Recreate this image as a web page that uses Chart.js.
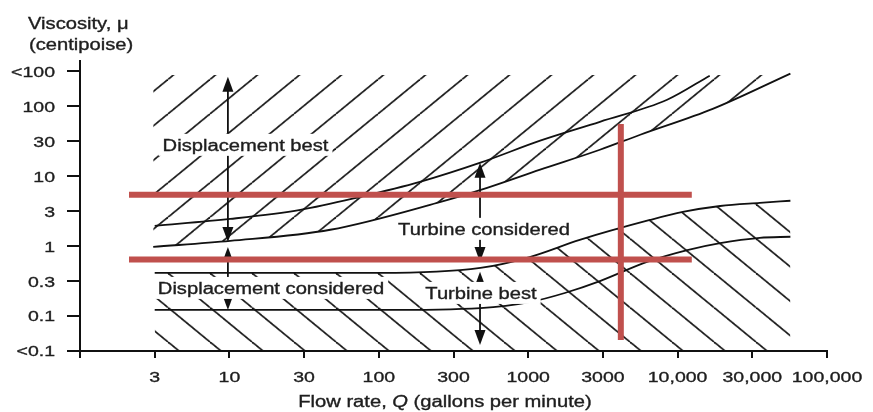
<!DOCTYPE html>
<html>
<head>
<meta charset="utf-8">
<script src="https://cdn.jsdelivr.net/npm/chart.js@4.4.1/dist/chart.umd.min.js"></script>
<style>
  html, body { margin: 0; padding: 0; background: #fff; }
  #wrap { width: 873px; height: 412px; }
</style>
</head>
<body>
<div id="wrap"><canvas id="chart" width="873" height="412"></canvas></div>
<script>
// axis positions are tick indexes: the printed ticks are evenly spaced
const xTickLabels = ['', '3', '10', '30', '100', '300', '1000', '3000', '10,000', '30,000', '100,000'];
const yTickLabels = ['<0.1', '0.1', '0.3', '1', '3', '10', '30', '100', '<100'];

// boundary curves, [flow tick index, viscosity tick index]
const turbineUpper = [[1.00, 3.58], [2.01, 3.78], [2.95, 4.04], [3.75, 4.41], [4.55, 4.84], [5.36, 5.39], [6.16, 6.02], [6.96, 6.56], [7.86, 7.19], [8.43, 7.88]];
const displacementBestEdge = [[0.98, 2.98], [2.01, 3.15], [3.35, 3.47], [4.78, 4.24], [5.45, 4.67], [6.16, 5.19], [6.96, 5.76], [7.50, 6.19], [8.47, 6.93], [9.51, 7.94]];
const turbineBestEdge = [[1.00, 2.235], [4.02, 2.235], [5.36, 2.38], [6.02, 2.69], [6.69, 3.18], [7.63, 3.75], [8.07, 3.98], [8.57, 4.15], [9.10, 4.24], [9.51, 4.30]];
const displacementConsidered = [[1.00, 1.175], [4.02, 1.175], [5.36, 1.23], [6.02, 1.40], [6.49, 1.66], [6.96, 2.00], [7.59, 2.55], [8.13, 2.89], [8.57, 3.09], [9.10, 3.24], [9.51, 3.27]];
const hatchTop = 7.9;

// double headed arrows
const arrowX = [1.98, 1.98, 5.355, 5.355];
const arrowLow = [3.12, 1.175, 2.55, 0.17];
const arrowHigh = [7.85, 2.98, 5.39, 2.27];

// region names
const regionText = ['Displacement best', 'Turbine considered', 'Displacement considered', 'Turbine best'];
const regionX = [2.216, 5.408, 2.557, 5.368];
const regionY = [5.90, 3.496, 1.805, 1.662];

// red marker lines drawn over the figure
const redH1 = [[0.656, 4.47], [8.19, 4.47]];
const redH2 = [[0.656, 2.62], [8.19, 2.62]];
const redV = [[7.24, 0.315], [7.24, 6.50]];

const FONT = '"Liberation Sans", Arial, Helvetica, sans-serif';
const INK = '#1e1e1e';
const LINE = '#111';
const RED = '#C0504D';

const pts = arr => arr.map(p => ({ x: p[0], y: p[1] }));

const canvas = document.getElementById('chart');
const ctx = canvas.getContext('2d');

function hatch(rising, offset) {
  const s = 42;
  const tile = document.createElement('canvas');
  tile.width = s;
  tile.height = s;
  const t = tile.getContext('2d');
  t.strokeStyle = LINE;
  t.lineWidth = 1.9;
  for (let k = -1; k <= 1; k++) {
    t.beginPath();
    if (rising) {
      t.moveTo(k * s, s);
      t.lineTo(k * s + s, 0);
    } else {
      t.moveTo(k * s, 0);
      t.lineTo(k * s + s, s);
    }
    t.stroke();
  }
  const pat = ctx.createPattern(tile, 'repeat');
  pat.setTransform(new DOMMatrix([1, 0, 0, 0.82, 0, offset]));
  return pat;
}

function drawStretched(c, parts, x, y, align, size, sx) {
  c.save();
  let total = 0;
  const widths = parts.map(p => {
    c.font = (p[1] ? 'italic ' : '') + size + 'px ' + FONT;
    const w = c.measureText(p[0]).width;
    total += w;
    return w;
  });
  let left = x;
  if (align === 'center') left = x - total * sx / 2;
  else if (align === 'right') left = x - total * sx;
  c.translate(left, y);
  c.scale(sx, 1);
  c.fillStyle = INK;
  c.strokeStyle = INK;
  c.lineWidth = 0.35;
  c.textAlign = 'left';
  c.textBaseline = 'alphabetic';
  let cx = 0;
  parts.forEach((p, i) => {
    c.font = (p[1] ? 'italic ' : '') + size + 'px ' + FONT;
    c.fillText(p[0], cx, 0);
    c.strokeText(p[0], cx, 0);
    cx += widths[i];
  });
  c.restore();
  return total * sx;
}

function arrowHead(c, x, tip, dir) {
  c.beginPath();
  c.moveTo(x, tip);
  c.lineTo(x - 5.5, tip - dir * 15);
  c.lineTo(x + 5.5, tip - dir * 15);
  c.closePath();
  c.fill();
}

let annotated = false;
const figurePlugin = {
  id: 'figure',
  beforeDatasetsDraw() {
    annotated = false;
  },
  beforeDatasetDraw(chart, args) {
    if (annotated || !chart.data.datasets[args.index].marker) return;
    annotated = true;
    const c = chart.ctx;
    const xs = chart.scales.x, ys = chart.scales.y;
    c.save();
    c.strokeStyle = LINE;
    c.fillStyle = LINE;
    c.lineWidth = 1.8;
    arrowX.forEach((v, i) => {
      const x = xs.getPixelForValue(v);
      const lo = ys.getPixelForValue(arrowLow[i]);
      const hi = ys.getPixelForValue(arrowHigh[i]);
      c.beginPath();
      c.moveTo(x, hi + 8);
      c.lineTo(x, lo - 8);
      c.stroke();
      arrowHead(c, x, hi, -1);
      arrowHead(c, x, lo, 1);
    });
    regionText.forEach((t, i) => {
      const x = xs.getPixelForValue(regionX[i]);
      const y = ys.getPixelForValue(regionY[i]);
      c.font = '16px ' + FONT;
      const w = c.measureText(t).width * 1.26;
      c.fillStyle = '#fff';
      c.fillRect(x - w / 2 - 4, y - 11, w + 8, 22);
      drawStretched(c, [[t]], x, y + 5.7, 'center', 16, 1.26);
    });
    c.restore();
  },
  afterDraw(chart) {
    const c = chart.ctx;
    const xs = chart.scales.x, ys = chart.scales.y;
    yTickLabels.forEach((t, i) => {
      drawStretched(c, [[t]], xs.left - 25, ys.getPixelForValue(i) + 5.4, 'right', 15, 1.3);
    });
    xTickLabels.forEach((t, i) => {
      if (t) drawStretched(c, [[t]], xs.getPixelForValue(i), 382, 'center', 15, 1.3);
    });
    drawStretched(c, [['Viscosity, μ']], 28, 29, 'left', 16, 1.26);
    drawStretched(c, [['(centipoise)']], 29, 50, 'left', 16, 1.26);
    drawStretched(c, [['Flow rate, '], ['Q', true], [' (gallons per minute)']], 445, 407, 'center', 16, 1.26);
  }
};

const curve = (data, extra) => Object.assign({
  data: pts(data),
  borderColor: LINE,
  borderWidth: 1.8,
  pointRadius: 0,
  cubicInterpolationMode: 'monotone',
  fill: false,
  order: 1
}, extra);

const marker = data => ({
  data: pts(data),
  borderColor: RED,
  borderWidth: 6,
  pointRadius: 0,
  fill: false,
  marker: true,
  order: 0
});

new Chart(ctx, {
  type: 'line',
  data: {
    datasets: [
      marker(redH1),
      marker(redH2),
      marker(redV),
      curve(displacementBestEdge, { fill: { value: hatchTop }, backgroundColor: hatch(true, 10.5), order: 2 }),
      curve(turbineBestEdge, { fill: { value: 0 }, backgroundColor: hatch(false, 32), order: 2 }),
      curve(turbineUpper),
      curve(displacementConsidered)
    ]
  },
  options: {
    responsive: false,
    animation: false,
    devicePixelRatio: 1,
    layout: { padding: { top: 61, right: 46, left: 0, bottom: 0 } },
    plugins: { legend: { display: false }, tooltip: { enabled: false } },
    scales: {
      x: {
        type: 'linear',
        min: 0,
        max: 10,
        afterBuildTicks: s => { s.ticks = xTickLabels.map((_, i) => ({ value: i })); },
        afterFit: s => { s.height = 61; },
        ticks: { display: false },
        grid: { drawOnChartArea: false, drawTicks: true, tickLength: 7, color: LINE, lineWidth: 2 },
        border: { color: LINE, width: 2 }
      },
      y: {
        type: 'linear',
        min: 0,
        max: 8.3,
        afterBuildTicks: s => { s.ticks = yTickLabels.map((_, i) => ({ value: i })); },
        afterFit: s => { s.width = 80; },
        ticks: { display: false },
        grid: { drawOnChartArea: false, drawTicks: true, tickLength: 13, color: LINE, lineWidth: 2 },
        border: { color: LINE, width: 2 }
      }
    }
  },
  plugins: [figurePlugin]
});
</script>
</body>
</html>
